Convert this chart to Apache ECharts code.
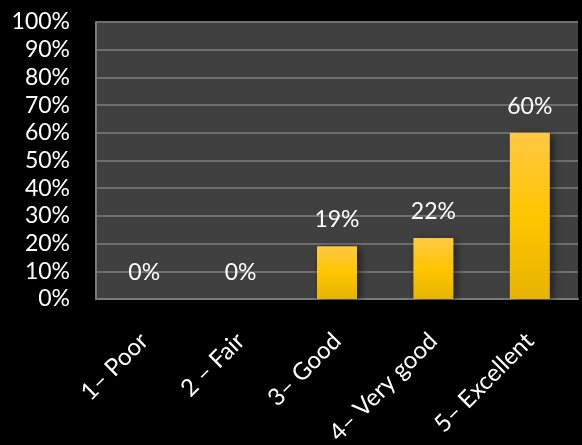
<!DOCTYPE html>
<html>
<head>
<meta charset="utf-8">
<script src="https://cdn.jsdelivr.net/npm/echarts@6/dist/echarts.min.js"></script>
<style>
html,body{margin:0;padding:0;background:#000;}
#c{width:582px;height:445px;}
</style>
</head>
<body>
<div id="c"></div>
<script>
const categories = ['1\u2013 Poor', '2 \u2013 Fair', '3\u2013 Good', '4\u2013 Very good', '5\u2013 Excellent'];
const values = [0, 0, 19, 22, 60];
const yTicks = [0, 10, 20, 30, 40, 50, 60, 70, 80, 90, 100];

const chart = echarts.init(document.getElementById('c'));
const font = 'Lato, "Open Sans", sans-serif';
chart.setOption({
  backgroundColor: '#000',
  animation: false,
  grid: { left: 96, right: 4, top: 22, bottom: 146, show: true, backgroundColor: '#404040', borderWidth: 0,
    containLabel: false, outerBoundsMode: 'none' },
  xAxis: {
    type: 'category',
    data: categories,
    axisLine: { show: true, lineStyle: { color: '#7a7a7a', width: 2 } },
    axisTick: { show: false },
    axisLabel: { color: '#fff', fontSize: 24, fontFamily: font, rotate: 45, margin: 38, interval: 0 }
  },
  yAxis: {
    type: 'value',
    min: 0, max: 100, interval: 10,
    axisLine: { show: true, lineStyle: { color: '#7a7a7a', width: 2 } },
    axisTick: { show: false },
    splitLine: { lineStyle: { color: '#6e6e6e', width: 2 } },
    axisLabel: { color: '#fff', fontSize: 23, fontFamily: font, margin: 26,
      formatter: v => yTicks.includes(v) ? v + '%' : '' }
  },
  series: [{
    type: 'bar',
    data: values,
    barWidth: 40,
    itemStyle: {
      color: new echarts.graphic.LinearGradient(0, 0, 0, 1, [
        { offset: 0, color: '#FFC843' },
        { offset: 0.5, color: '#FFC600' },
        { offset: 1, color: '#E6B300' }
      ]),
      shadowColor: 'rgba(0,0,0,0.55)',
      shadowBlur: 8,
      shadowOffsetX: 3,
      shadowOffsetY: 2
    },
    label: {
      show: true, position: 'top', distance: 15,
      color: '#fff', fontSize: 23, fontFamily: font,
      formatter: p => p.value + '%'
    }
  }]
});
</script>
</body>
</html>
